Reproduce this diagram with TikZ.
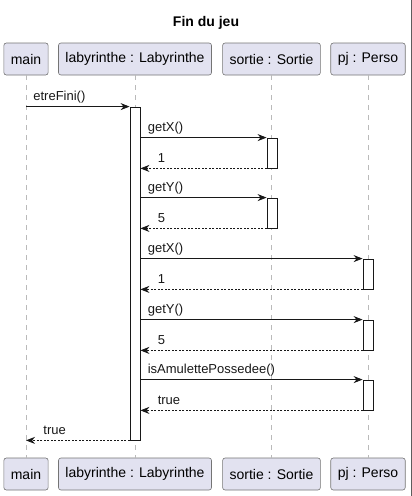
\documentclass[tikz,border=0pt]{standalone}
\usepackage{fontspec}
\setmainfont{Liberation Sans}
\usetikzlibrary{arrows.meta,positioning}
\definecolor{partfill}{HTML}{E2E2F0}
\definecolor{ink}{HTML}{181818}

\begin{document}
\begin{tikzpicture}[x=1pt, y=-1pt,
  part/.style={rectangle, rounded corners=2.5pt, draw=ink!60, line width=0.6pt, fill=partfill, minimum height=32pt, inner xsep=7pt, font=\fontsize{14}{16}\selectfont},
  life/.style={ink!30, line width=1pt, dash pattern=on 5pt off 5pt},
  act/.style={rectangle, draw=ink, line width=0.8pt, fill=white, minimum width=10pt, inner sep=0pt},
  msg/.style={-{Stealth[length=9pt,width=7pt]}, ink, line width=0.8pt},
  ret/.style={msg, dash pattern=on 2pt off 1.5pt},
  lbl/.style={font=\fontsize{13}{15}\selectfont, anchor=south west, inner sep=1pt, text height=10pt, text depth=3pt, yshift=2pt}
]
  \useasboundingbox (0,0) rectangle (412,496);
  \draw[ink!70, line width=1pt] (411.5,0) -- (411.5,496);

  % Title
  \node[font=\bfseries\fontsize{14}{16}\selectfont] (title) at (206,23) {Fin du jeu};

  % Participants, top and bottom
  \node[part] (main) at (26,59) {main};
  \node[part] (lab) at (135,59) {labyrinthe : Labyrinthe};
  \node[part] (sortie) at (271.5,59) {sortie : Sortie};
  \node[part] (pj) at (368,59) {pj : Perso};
  \node[part] (mainB) at (26,474) {main};
  \node[part] (labB) at (135,474) {labyrinthe : Labyrinthe};
  \node[part] (sortieB) at (271.5,474) {sortie : Sortie};
  \node[part] (pjB) at (368,474) {pj : Perso};

  % Lifelines
  \draw[life] (main.south) -- (mainB.north);
  \draw[life] (lab.south) -- (labB.north);
  \draw[life] (sortie.south) -- (sortieB.north);
  \draw[life] (pj.south) -- (pjB.north);

  % Activations
  \node[act, minimum height=333pt] (aLab) at (135,273.5) {};
  \node[act, minimum height=30pt] (aS1) at (272,153) {};
  \node[act, minimum height=30pt] (aS2) at (272,213) {};
  \node[act, minimum height=30pt] (aP1) at (368,274) {};
  \node[act, minimum height=30pt] (aP2) at (368,335) {};
  \node[act, minimum height=30pt] (aP3) at (368,395) {};

  % Messages
  \draw[msg] (main |- aLab.north) -- (aLab.north west) node[lbl, pos=0, xshift=6pt] {etreFini()};

  \draw[msg] (aLab.east |- aS1.north) -- (aS1.north west) node[lbl, pos=0, xshift=6pt] {getX()};
  \draw[ret] (aS1.south west) -- (aLab.east |- aS1.south) node[lbl, pos=1, xshift=16pt] {1};

  \draw[msg] (aLab.east |- aS2.north) -- (aS2.north west) node[lbl, pos=0, xshift=6pt] {getY()};
  \draw[ret] (aS2.south west) -- (aLab.east |- aS2.south) node[lbl, pos=1, xshift=16pt] {5};

  \draw[msg] (aLab.east |- aP1.north) -- (aP1.north west) node[lbl, pos=0, xshift=6pt] {getX()};
  \draw[ret] (aP1.south west) -- (aLab.east |- aP1.south) node[lbl, pos=1, xshift=16pt] {1};

  \draw[msg] (aLab.east |- aP2.north) -- (aP2.north west) node[lbl, pos=0, xshift=6pt] {getY()};
  \draw[ret] (aP2.south west) -- (aLab.east |- aP2.south) node[lbl, pos=1, xshift=16pt] {5};

  \draw[msg] (aLab.east |- aP3.north) -- (aP3.north west) node[lbl, pos=0, xshift=6pt] {isAmulettePossedee()};
  \draw[ret] (aP3.south west) -- (aLab.east |- aP3.south) node[lbl, pos=1, xshift=16pt] {true};

  \draw[ret] (aLab.south west) -- (main |- aLab.south) node[lbl, pos=1, xshift=16pt] {true};
\end{tikzpicture}
\end{document}
